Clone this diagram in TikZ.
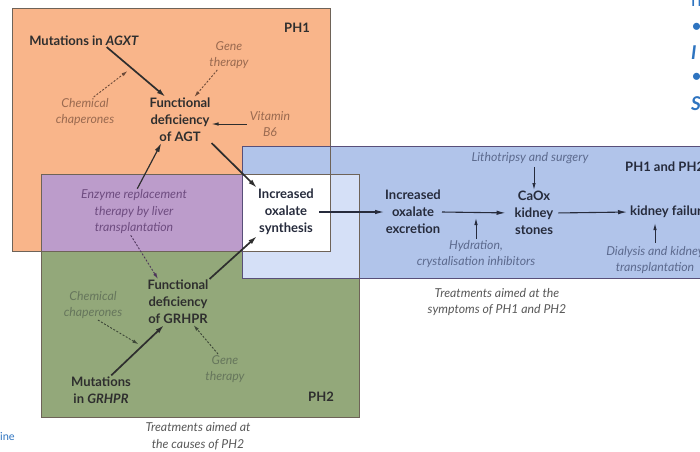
\documentclass[tikz,border=0pt]{standalone}
\usepackage{fontspec}
\setmainfont{Lato}
\usetikzlibrary{arrows.meta, calc}
\definecolor{orangebox}{HTML}{F9B58A}
\definecolor{greenbox}{HTML}{93A87A}
\definecolor{purplebox}{HTML}{BC9CCB}
\definecolor{bluebox}{HTML}{B1C4EA}
\definecolor{paleblue}{HTML}{D5E0F7}
\definecolor{boxline}{HTML}{6E6358}
\definecolor{darktext}{HTML}{2E2E2E}
\definecolor{navytext}{HTML}{262B3C}
\definecolor{browntext}{HTML}{9A6A50}
\definecolor{plumtext}{HTML}{6E4C80}
\definecolor{mosstext}{HTML}{66765C}
\definecolor{slatetext}{HTML}{5C6A8E}
\definecolor{slideblue}{HTML}{2E74C0}
\tikzset{
    every node/.style={inner sep=1pt, align=center},
    cause/.style={font=\bfseries\fontsize{13}{17}\selectfont, text=darktext},
    step2/.style={font=\bfseries\fontsize{13}{17}\selectfont, text=navytext},
    therapy/.style={font=\itshape\fontsize{12.3}{16.5}\selectfont},
    caption/.style={font=\itshape\fontsize{12.3}{16.5}\selectfont, text=darktext!80},
    slide/.style={font=\bfseries\itshape\fontsize{19}{24}\selectfont, text=slideblue, anchor=west}
}
\tikzset{
    main/.style={-{Latex[length=9pt,width=5pt]}, line width=1.7pt, darktext},
    flow/.style={-{Latex[length=9pt,width=4.5pt]}, line width=1.1pt, navytext},
    aid/.style={-{Latex[length=7pt,width=3.5pt]}, line width=0.9pt},
    dashaid/.style={-{Latex[length=6pt,width=3.5pt]}, line width=0.9pt,
        dash pattern=on 2pt off 1.6pt}
}

\begin{document}
\begin{tikzpicture}[x=1pt, y=-1pt]
  \useasboundingbox (0,0) rectangle (700,451);

  \fill[orangebox] (12,8) rectangle (330,251);
  \fill[greenbox] (41,174) rectangle (359,417);
  \fill[purplebox] (41,174) rectangle (242,251);
  \fill[bluebox] (242,146) rectangle (712,278);
  \fill[paleblue] (242,174) rectangle (359,278);
  \fill[white] (242,174) rectangle (330,251);
  \draw[boxline, line width=0.8pt] (12,8) rectangle (330,251);
  \draw[boxline, line width=0.8pt] (41,174) rectangle (359,417);
  \draw[boxline!80!blue, line width=0.8pt] (242,146) rectangle (712,278);

  % PH1
  \node (mutA) [cause] at (84, 41) {Mutations in \textit{AGXT}};
  \node (geneA) [therapy, text=browntext] at (229, 55) {Gene\\therapy};
  \node (chapA) [therapy, text=browntext] at (85, 112) {Chemical\\chaperones};
  \node (defA) [cause] at (180, 120) {Functional\\deficiency\\of AGT};
  \node (vitB) [therapy, text=browntext] at (270, 124) {Vitamin\\B6};
  \node (ph1) [cause] at (297, 28) {PH1};
  \node (enz) [therapy, text=plumtext] at (134, 212) {Enzyme replacement\\therapy by liver\\transplantation};

  % PH2
  \node (defG) [cause] at (178, 302) {Functional\\deficiency\\of GRHPR};
  \node (chapG) [therapy, text=mosstext] at (93, 305) {Chemical\\chaperones};
  \node (geneG) [therapy, text=mosstext] at (225, 369) {Gene\\therapy};
  \node (mutG) [cause] at (101, 390) {Mutations\\in \textit{GRHPR}};
  \node (ph2) [cause] at (321, 397) {PH2};
  \node (treatG) [caption] at (198, 436) {Treatments aimed at\\the causes of PH2};

  % PH1 and PH2
  \node (synth) [step2] at (286, 212) {Increased\\oxalate\\synthesis};
  \node (excr) [step2] at (413, 212) {Increased\\oxalate\\excretion};
  \node (stones) [step2] at (534, 213) {CaOx\\kidney\\stones};
  \node (litho) [therapy, text=slatetext] at (530, 158) {Lithotripsy and surgery};
  \node (hydr) [therapy, text=slatetext] at (476, 254) {Hydration,\\crystalisation inhibitors};
  \node (fail) [step2, anchor=west] at (629, 212) {kidney failure};
  \node (dial) [therapy, text=slatetext] at (655, 260) {Dialysis and kidney\\transplantation};
  \node (ph12) [step2, anchor=west] at (624, 167) {PH1 and PH2};
  \node (treatS) [caption] at (497, 302) {Treatments aimed at the\\symptoms of PH1 and PH2};

  % cut-off slide text
  \node (s1) [slide, font=\fontsize{19}{24}\selectfont] at (690, 2) {n};
  \node (s2) [slide, font=\fontsize{19}{24}\selectfont] at (690, 28) {•};
  \node (s3) [slide] at (690, 53) {I};
  \node (s4) [slide, font=\fontsize{19}{24}\selectfont] at (690, 78) {•};
  \node (s5) [slide] at (690, 104) {S};
  \node (s6) [anchor=west, text=slideblue, font=\fontsize{11}{13}\selectfont] at (-1, 437) {ine};

  \coordinate (onA) at ($(mutA.-15)!0.42!(defA.122)$);
  \coordinate (onG) at ($(mutG.55)!0.58!(defG.239)$);

  \draw (mutA.-15) edge [main] (defA.122);
  \draw (chapA.60) edge [dashaid, browntext!70!black, shorten >=5pt] (onA);
  \draw (geneA.232) edge [dashaid, browntext!70!black] (defA.58);
  \draw (vitB.west) edge [aid, darktext, shorten <=2pt] (vitB.west -| defA.east);
  \draw (enz.82) edge [main, line width=1.2pt] (defA.231);
  \draw (enz.262) edge [dashaid, plumtext!70!black] (defG.131);
  \draw (defA.south east) edge [main] (synth.north west);

  \draw (mutG.55) edge [main] (defG.239);
  \draw (chapG.-72) edge [dashaid, mosstext!60!black, shorten >=4pt] (onG);
  \draw (geneG.115) edge [dashaid, mosstext!60!black] (defG.-56);
  \draw (defG.north east) edge [main] (synth.south west);

  \draw (synth.east) edge [flow, shorten <=4pt] (excr.west);
  \draw (excr.east) edge [flow, shorten >=8pt] (stones.west);
  \draw (stones.east) edge [flow, shorten <=4pt, shorten >=2pt] (fail.west);
  \draw (hydr.north) edge [aid, navytext, shorten >=6pt] (hydr.north |- excr.east);
  \draw (litho.south -| stones.north) edge [aid, navytext, shorten <=2pt] (stones.north);
  \draw (dial.north) edge [aid, navytext, shorten <=2pt, shorten >=4pt] (dial.north |- fail.south);
\end{tikzpicture}
\end{document}
